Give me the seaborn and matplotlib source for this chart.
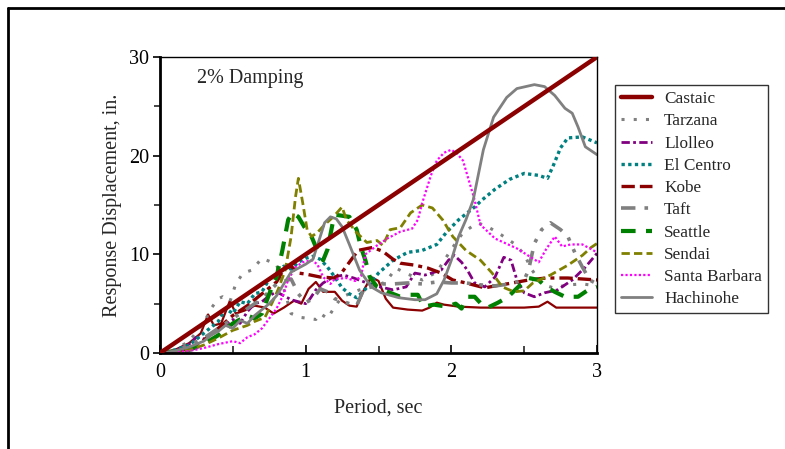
import matplotlib
matplotlib.use("Agg")
import matplotlib.pyplot as plt
from matplotlib.lines import Line2D
import seaborn as sns
import pandas as pd

# ============================
# DATA
# ============================
castaic_t = [0, 0.1, 0.2, 0.28, 0.33, 0.37, 0.42, 0.48, 0.52, 0.58, 0.65, 0.72, 0.78, 0.85, 0.92, 0.97,
             1.02, 1.07, 1.12, 1.2, 1.25, 1.3, 1.35, 1.4, 1.45, 1.5, 1.55, 1.6, 1.7, 1.8, 1.85, 1.9, 1.95,
             2.05, 2.2, 2.5, 2.6, 2.66, 2.72, 3.0]
castaic_d = [0, 0.3, 1.0, 2.0, 3.9, 2.8, 3.0, 5.3, 4.0, 4.3, 4.8, 4.6, 4.0, 4.6, 5.3, 5.0,
             6.5, 7.2, 6.2, 6.2, 5.3, 4.8, 4.7, 6.4, 7.7, 7.3, 5.5, 4.6, 4.4, 4.3, 4.6, 5.1, 4.9,
             4.7, 4.6, 4.6, 4.7, 5.2, 4.6, 4.6]

tarzana_t = [0, 0.1, 0.2, 0.3, 0.35, 0.4, 0.43, 0.48, 0.52, 0.57, 0.63, 0.7, 0.75, 0.8, 0.85, 0.9,
             0.97, 1.02, 1.07, 1.1, 1.15, 1.2, 1.25, 1.37, 1.46, 1.55, 1.62, 1.7, 1.8, 1.9, 2.0,
             2.08, 2.18, 2.25, 2.34, 2.44, 2.5, 2.55, 2.62, 2.7, 2.8, 2.9, 3.0]
tarzana_d = [0, 0.3, 1.2, 3.0, 4.5, 5.5, 5.7, 5.2, 7.0, 8.1, 8.4, 9.6, 9.3, 9.0, 6.5, 4.0,
             3.6, 3.5, 3.4, 4.0, 3.5, 4.7, 5.7, 6.4, 6.7, 7.2, 8.6, 8.0, 7.4, 8.2, 10.5,
             12.2, 13.2, 12.8, 12.0, 11.0, 10.0, 8.5, 7.0, 6.6, 6.9, 7.0, 6.8]

llolleo_t = [0, 0.1, 0.2, 0.25, 0.3, 0.4, 0.45, 0.5, 0.55, 0.6, 0.65, 0.7, 0.75, 0.8, 0.85, 0.9,
             0.95, 1.0, 1.03, 1.07, 1.12, 1.19, 1.26, 1.33, 1.42, 1.51, 1.6, 1.69, 1.75, 1.82, 1.93,
             1.98, 2.02, 2.07, 2.11, 2.16, 2.23, 2.3, 2.36, 2.41, 2.45, 2.5, 2.57, 2.64, 2.73, 2.83,
             2.92, 3.0]
llolleo_d = [0, 0.2, 0.9, 1.6, 1.4, 2.5, 2.8, 3.4, 3.0, 4.2, 5.0, 5.2, 5.8, 6.2, 5.8, 5.4,
             5.2, 5.0, 5.5, 6.4, 7.1, 7.7, 7.9, 7.6, 7.1, 6.7, 6.4, 6.7, 8.1, 7.9, 8.4,
             9.4, 9.9, 9.2, 8.4, 7.1, 6.7, 7.7, 9.7, 9.4, 7.4, 6.1, 5.7, 6.1, 6.4, 7.4,
             8.7, 10.1]

elcentro_t = [0, 0.1, 0.2, 0.3, 0.4, 0.45, 0.5, 0.55, 0.6, 0.65, 0.7, 0.75, 0.8, 0.85, 0.9, 0.95,
              1.0, 1.05, 1.1, 1.15, 1.2, 1.25, 1.3, 1.35, 1.4, 1.5, 1.6, 1.7, 1.8, 1.9, 1.97,
              2.05, 2.16, 2.21, 2.3, 2.4, 2.5, 2.6, 2.66, 2.7, 2.75, 2.8, 2.9, 3.0]
elcentro_d = [0, 0.3, 0.8, 2.0, 3.2, 4.5, 4.0, 5.2, 5.0, 6.0, 6.2, 7.5, 7.8, 8.8, 8.5, 9.2,
              9.6, 9.8, 9.5, 8.7, 7.7, 6.6, 6.0, 5.6, 6.3, 8.1, 9.4, 10.2, 10.4, 11.0, 12.3,
              13.5, 14.8, 15.5, 16.6, 17.6, 18.2, 18.0, 17.7, 19.0, 20.8, 21.8, 21.9, 21.3]

kobe_t = [0, 0.2, 0.3, 0.4, 0.5, 0.6, 0.7, 0.8, 0.85, 0.9, 0.95, 1.0, 1.1, 1.2, 1.25, 1.3, 1.36,
          1.46, 1.53, 1.6, 1.65, 1.75, 1.84, 1.93, 2.01, 2.1, 2.23, 2.3, 2.42, 2.53, 2.65, 2.8, 3.0]
kobe_d = [0, 0.4, 1.3, 2.5, 3.8, 4.8, 6.0, 7.2, 8.5, 8.8, 8.1, 8.0, 7.7, 7.6, 8.2, 9.2, 10.4,
          10.7, 10.3, 9.5, 9.1, 8.9, 8.6, 8.1, 7.4, 7.1, 6.6, 6.8, 7.1, 7.4, 7.6, 7.6, 7.4]

taft_t = [0, 0.1, 0.2, 0.3, 0.4, 0.5, 0.6, 0.7, 0.8, 0.9, 0.95, 1.0, 1.05, 1.1, 1.15, 1.2, 1.3,
          1.35, 1.4, 1.5, 1.6, 1.7, 1.8, 1.9, 2.0, 2.1, 2.2, 2.3, 2.4, 2.5, 2.53, 2.57, 2.62,
          2.68, 2.75, 2.8, 2.85, 2.9, 2.95, 3.0]
taft_d = [0, 0.2, 0.8, 1.5, 2.5, 3.5, 4.5, 5.5, 7.0, 7.5, 6.0, 5.1, 5.5, 6.5, 6.2, 5.5, 5.0,
          4.8, 6.5, 7.0, 7.0, 7.1, 7.0, 7.2, 7.1, 7.1, 6.9, 6.8, 7.0, 7.4, 8.4, 11.1, 12.5,
          13.2, 12.5, 11.8, 10.1, 8.7, 7.4, 7.0]

seattle_t = [0, 0.2, 0.3, 0.4, 0.5, 0.6, 0.65, 0.7, 0.75, 0.8, 0.84, 0.88, 0.91, 0.95, 0.99, 1.04,
             1.08, 1.12, 1.15, 1.19, 1.21, 1.3, 1.35, 1.38, 1.41, 1.44, 1.49, 1.58, 1.65, 1.72,
             1.77, 1.81, 1.88, 1.97, 2.03, 2.07, 2.11, 2.16, 2.21, 2.25, 2.32, 2.39, 2.46, 2.53,
             2.6, 2.65, 2.71, 2.78, 2.87, 2.94, 3.0]
seattle_d = [0, 0.3, 0.9, 1.8, 3.0, 3.8, 3.5, 4.0, 6.0, 7.7, 10.4, 13.5, 14.2, 13.8, 12.8, 11.8,
             10.4, 9.4, 10.5, 13.5, 14.0, 13.8, 12.5, 10.7, 9.4, 7.7, 6.7, 6.1, 5.7, 5.9,
             5.9, 4.7, 4.9, 4.7, 5.0, 4.5, 5.7, 5.7, 4.9, 4.6, 5.1, 5.7, 6.7, 7.6,
             7.4, 6.7, 6.2, 5.7, 5.7, 6.4, 6.7]

sendai_t = [0, 0.2, 0.3, 0.4, 0.5, 0.6, 0.65, 0.72, 0.77, 0.81, 0.86, 0.9, 0.93, 0.95, 0.98, 1.01,
            1.04, 1.08, 1.13, 1.19, 1.25, 1.28, 1.35, 1.42, 1.49, 1.53, 1.58, 1.65, 1.72, 1.8,
            1.87, 1.94, 2.01, 2.1, 2.2, 2.28, 2.35, 2.43, 2.5, 2.56, 2.68, 2.8, 2.9, 2.96, 3.0]
sendai_d = [0, 0.3, 0.8, 1.5, 2.3, 2.8, 3.2, 3.6, 5.1, 6.4, 8.4, 11.8, 15.8, 17.7, 15.2, 12.5,
            11.8, 12.2, 13.0, 13.8, 14.8, 13.5, 12.2, 11.2, 11.4, 10.9, 12.5, 12.7, 14.2, 15.0,
            14.7, 13.5, 11.8, 10.4, 9.4, 8.1, 6.7, 6.2, 6.3, 7.1, 7.9, 8.9, 9.9, 10.7, 11.1]

sbarbara_t = [0, 0.2, 0.3, 0.4, 0.5, 0.55, 0.6, 0.65, 0.7, 0.74, 0.8, 0.84, 0.88, 0.93, 0.98, 1.04,
              1.08, 1.12, 1.17, 1.2, 1.28, 1.34, 1.38, 1.41, 1.49, 1.56, 1.65, 1.73, 1.77, 1.8,
              1.86, 1.9, 1.95, 2.0, 2.04, 2.08, 2.12, 2.16, 2.2, 2.3, 2.45, 2.6, 2.65, 2.71, 2.76,
              2.82, 2.9, 3.0]
sbarbara_d = [0, 0.2, 0.5, 0.9, 1.2, 1.0, 1.6, 1.9, 2.5, 3.3, 4.5, 5.7, 7.4, 8.7, 9.2, 9.4,
              9.0, 7.7, 7.0, 7.5, 7.6, 7.3, 7.8, 10.0, 10.9, 11.6, 12.3, 12.6, 13.5, 15.2,
              18.0, 19.5, 20.3, 20.6, 20.2, 19.5, 17.5, 15.5, 13.0, 11.6, 10.6, 9.2, 10.5, 11.8, 10.8,
              11.0, 11.0, 10.2]

hachinohe_t = [0, 0.1, 0.2, 0.3, 0.35, 0.4, 0.45, 0.5, 0.55, 0.6, 0.65, 0.7, 0.75, 0.8, 0.85, 0.9,
               0.95, 1.0, 1.05, 1.1, 1.13, 1.17, 1.21, 1.25, 1.3, 1.37, 1.45, 1.52, 1.64, 1.75,
               1.82, 1.9, 1.95, 2.0, 2.05, 2.1, 2.15, 2.22, 2.29, 2.38, 2.45, 2.57, 2.64, 2.71,
               2.78, 2.83, 2.87, 2.92, 3.0]
hachinohe_d = [0, 0.2, 0.6, 1.2, 1.8, 2.2, 2.8, 2.5, 3.3, 3.0, 3.8, 4.4, 5.0, 5.8, 7.0, 8.2,
               8.6, 9.0, 9.5, 11.8, 13.2, 13.8, 13.6, 12.8, 11.0, 8.4, 6.7, 6.1, 5.6, 5.4,
               5.4, 6.0, 7.4, 9.4, 11.8, 13.5, 15.5, 20.6, 23.9, 25.9, 26.8, 27.2, 27.0, 26.1,
               24.8, 24.3, 22.9, 20.9, 20.1]

# straight reference line
ref_t = [0, 3]
ref_d = [0, 30]

# ============================
# STYLES
# ============================
series = [
    ("Castaic", castaic_t, castaic_d, "#8B0000", 1.6, "-"),
    ("Tarzana", tarzana_t, tarzana_d, "#808080", 2.2, (0, (1, 3))),
    ("Llolleo", llolleo_t, llolleo_d, "#800080", 2.0, (0, (3, 1.2, 1, 1.2))),
    ("El Centro", elcentro_t, elcentro_d, "#008080", 2.4, (0, (1, 1))),
    ("Kobe", kobe_t, kobe_d, "#8B0000", 2.4, (0, (4, 1.5, 4, 1.5, 1.2, 1.5))),
    ("Taft", taft_t, taft_d, "#808080", 2.6, (0, (4, 2.5, 1, 2.5, 1, 2.5))),
    ("Seattle", seattle_t, seattle_d, "#008000", 3.0, (0, (3.5, 2.5))),
    ("Sendai", sendai_t, sendai_d, "#808000", 2.0, (0, (3, 1.5))),
    ("Santa Barbara", sbarbara_t, sbarbara_d, "#FF00FF", 1.6, (0, (1, 1))),
    ("Hachinohe", hachinohe_t, hachinohe_d, "#808080", 2.0, "-"),
]

sns.set_style("ticks")
plt.rcParams["font.family"] = ["Liberation Serif", "DejaVu Serif"]

fig = plt.figure(figsize=(7.85, 4.49), dpi=100)
ax = fig.add_axes([160 / 785, 1 - 353 / 449, 437 / 785, 296 / 449])

for name, t, d, color, lw, ls in series:
    df = pd.DataFrame({"Period": t, "Disp": d})
    sns.lineplot(data=df, x="Period", y="Disp", ax=ax, color=color, linewidth=lw,
                 linestyle=ls, label=name, errorbar=None, sort=False)

ref = pd.DataFrame({"Period": ref_t, "Disp": ref_d})
sns.lineplot(data=ref, x="Period", y="Disp", ax=ax, color="#8B0000", linewidth=3.2,
             errorbar=None, zorder=5)

ax.set_xlim(0, 3)
ax.set_ylim(0, 30)
ax.set_xticks([0, 1, 2, 3])
ax.set_xticks([0.5, 1.5, 2.5], minor=True)
ax.set_yticks([0, 10, 20, 30])
ax.set_yticks([5, 15, 25], minor=True)
ax.tick_params(axis="x", which="major", direction="in", length=6, width=1.2,
               labelsize=14.5, pad=7, colors="black")
ax.tick_params(axis="x", which="minor", direction="in", length=5, width=1.2)
ax.tick_params(axis="y", which="major", direction="out", length=5, width=1.2,
               labelsize=14.5, pad=3, colors="black")
ax.tick_params(axis="y", which="minor", direction="out", length=4, width=1.2)

for side in ["top", "right"]:
    ax.spines[side].set_visible(True)
    ax.spines[side].set_linewidth(1.0)
for side in ["left", "bottom"]:
    ax.spines[side].set_linewidth(2.0)
for s in ax.spines.values():
    s.set_color("black")

ax.set_xlabel("Period, sec", fontsize=14.5, labelpad=12)
ax.set_ylabel("Response Displacement, in.", fontsize=14.5, labelpad=5)

ax.text(0.085, 0.929, "2% Damping", transform=ax.transAxes, fontsize=14.5,
        va="center", ha="left")

leg = ax.legend(loc="upper left", bbox_to_anchor=(615 / 785, 1 - 85 / 449),
                bbox_transform=fig.transFigure, fontsize=12.4, frameon=True,
                fancybox=False, edgecolor="black", handlelength=1.8,
                handletextpad=0.7, labelspacing=0.36, borderpad=0.35, borderaxespad=0)
leg.get_frame().set_linewidth(1.0)
leg.get_lines()[0].set_linewidth(3.2)

# outer frame of the original figure
fig.add_artist(Line2D([8 / 785, 8 / 785], [0, 1 - 8 / 449], color="black", lw=2,
                      transform=fig.transFigure))
fig.add_artist(Line2D([8 / 785, 1], [1 - 8 / 449, 1 - 8 / 449], color="black", lw=2,
                      transform=fig.transFigure))

fig.savefig("out.png", dpi=100)
